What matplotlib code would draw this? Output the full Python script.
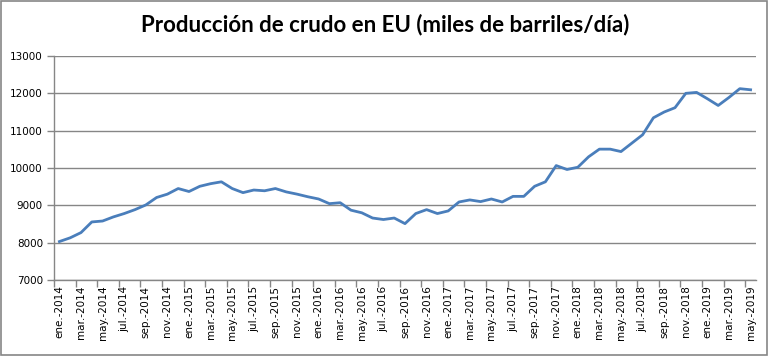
import matplotlib
matplotlib.use("Agg")
import matplotlib.pyplot as plt
from matplotlib.patches import Rectangle
from matplotlib.ticker import FixedLocator, NullFormatter

months = ["ene.", "feb.", "mar.", "abr.", "may.", "jun.", "jul.", "ago.", "sep.", "oct.", "nov.", "dic."]
years = [2014, 2015, 2016, 2017, 2018, 2019]
categories = [f"{m}-{y}" for y in years for m in months][:65]

production = [
    8030, 8130, 8270, 8555, 8580, 8690, 8780, 8885, 9010, 9210, 9300, 9450,
    9370, 9510, 9580, 9630, 9450, 9340, 9410, 9390, 9450, 9360, 9300, 9230,
    9170, 9045, 9070, 8870, 8800, 8660, 8620, 8660, 8510, 8780, 8885, 8780,
    8850, 9090, 9145, 9100, 9170, 9090, 9240, 9240, 9510, 9630, 10065, 9960,
    10020, 10300, 10505, 10505, 10440, 10665, 10890, 11345, 11500, 11615, 12000, 12025,
    11855, 11675, 11890, 12125, 12095,
]

y_ticks = [7000, 8000, 9000, 10000, 11000, 12000, 13000]
title = "Producción de crudo en EU (miles de barriles/día)"

fig = plt.figure(figsize=(7.69, 3.56), dpi=100)
ax = fig.add_axes([54 / 769, 1 - 280 / 356, (756 - 54) / 769, (280 - 56) / 356])

x = list(range(len(production)))
ax.plot(x, production, color="#4A7EBB", linewidth=2.0, solid_joinstyle="round")

ax.set_xlim(-0.5, len(production) - 0.5)
ax.set_ylim(y_ticks[0], y_ticks[-1])
ax.set_yticks(y_ticks)
ax.set_yticklabels([str(v) for v in y_ticks], fontsize=7.5, family="DejaVu Sans")
ax.yaxis.grid(True, color="#868686", linewidth=1.0)
ax.set_axisbelow(True)

label_pos = x[::2]
ax.set_xticks(label_pos)
ax.set_xticklabels([categories[i] for i in label_pos], rotation=90, fontsize=7.5, family="DejaVu Sans")
ax.tick_params(axis="x", which="major", length=0, pad=4)
ax.xaxis.set_minor_locator(FixedLocator([i - 0.5 for i in range(0, len(production), 2)]))
ax.xaxis.set_minor_formatter(NullFormatter())
ax.tick_params(axis="x", which="minor", length=5, color="#868686", width=1)
ax.tick_params(axis="y", length=5, color="#868686", width=1, pad=3)

for s in ["top", "right"]:
    ax.spines[s].set_visible(False)
for s in ["left", "bottom"]:
    ax.spines[s].set_color("#868686")
    ax.spines[s].set_linewidth(1.0)

fig.text(385 / 769, 1 - 25 / 356, title, ha="center", va="center",
         fontsize=16, fontweight="bold", family="Lato")

fig.patches.append(Rectangle((0.001, 0.002), 0.997, 0.995, transform=fig.transFigure,
                             fill=False, edgecolor="#868686", linewidth=1.2))

fig.savefig("out.png", dpi=100)
